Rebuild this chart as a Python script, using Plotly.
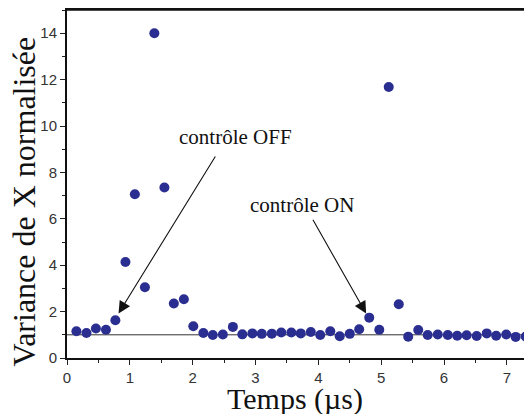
import plotly.graph_objects as go

# data
temps = [0.15, 0.31, 0.46, 0.62, 0.77, 0.93, 1.08, 1.24, 1.39, 1.55,
         1.70, 1.86, 2.01, 2.17, 2.32, 2.48, 2.64, 2.79, 2.95, 3.10,
         3.26, 3.41, 3.57, 3.72, 3.88, 4.03, 4.19, 4.34, 4.50, 4.65,
         4.81, 4.97, 5.12, 5.28, 5.43, 5.59, 5.74, 5.90, 6.06, 6.21,
         6.36, 6.52, 6.68, 6.83, 6.99, 7.14, 7.30, 7.45]
variance = [1.15, 1.08, 1.27, 1.22, 1.63, 4.14, 7.06, 3.05, 14.0, 7.35,
            2.35, 2.53, 1.37, 1.08, 0.99, 1.01, 1.34, 1.02, 1.06, 1.04,
            1.05, 1.10, 1.10, 1.06, 1.12, 0.99, 1.15, 0.94, 1.04, 1.24,
            1.74, 1.22, 11.68, 2.32, 0.92, 1.21, 0.99, 1.01, 0.99, 0.96,
            0.98, 0.95, 1.06, 0.96, 1.01, 0.91, 0.93, 1.05]
niveau_ref = 1.0

x_range = [0, 7.40]
y_range = [0, 15]

SERIF = "Liberation Serif, Times New Roman, serif"
SANS = "Liberation Sans, Arial, sans-serif"

fig = go.Figure()

# reference level
fig.add_trace(go.Scatter(
    x=x_range, y=[niveau_ref, niveau_ref],
    mode="lines", line=dict(color="#333333", width=1),
    hoverinfo="skip", showlegend=False
))

fig.add_trace(go.Scatter(
    x=temps, y=variance,
    mode="markers",
    marker=dict(color="#2b2e91", size=10),
    showlegend=False
))

# arrows
fig.add_annotation(x=0.82, y=1.92, ax=2.375, ay=8.75,
                   xref="x", yref="y", axref="x", ayref="y",
                   showarrow=True, arrowhead=2, arrowsize=2.2, arrowwidth=1.1,
                   arrowcolor="#111111", text="")
fig.add_annotation(x=4.76, y=1.92, ax=3.90, ay=6.02,
                   xref="x", yref="y", axref="x", ayref="y",
                   showarrow=True, arrowhead=2, arrowsize=2.2, arrowwidth=1.1,
                   arrowcolor="#111111", text="")

# labels
fig.add_annotation(x=2.68, y=9.52, xref="x", yref="y", showarrow=False,
                   text="contrôle OFF", font=dict(family=SERIF, size=21, color="#111111"))
fig.add_annotation(x=3.74, y=6.58, xref="x", yref="y", showarrow=False,
                   text="contrôle ON", font=dict(family=SERIF, size=21, color="#111111"))

# axis titles placed by hand
fig.add_annotation(x=0.49, y=0, xref="paper", yref="paper", yshift=-41,
                   xanchor="center", yanchor="middle", showarrow=False,
                   text="Temps (µs)", font=dict(family=SERIF, size=30, color="#111111"))
fig.add_annotation(x=0, y=0.45, xref="paper", yref="paper", xshift=-43,
                   xanchor="center", yanchor="middle", showarrow=False, textangle=-90,
                   text="Variance de X normalisée", font=dict(family=SERIF, size=32, color="#111111"))

# top frame line
fig.add_shape(type="line", xref="paper", yref="paper", x0=0, x1=1, y0=1, y1=1,
              line=dict(color="#111111", width=1.5))

fig.update_xaxes(
    range=x_range, dtick=1, tick0=0,
    ticks="outside", ticklen=5, tickwidth=1, tickcolor="#222222",
    minor=dict(ticks="outside", ticklen=3, dtick=0.5, tickcolor="#222222"),
    showline=True, linewidth=2, linecolor="#111111", mirror="ticks",
    showgrid=False, zeroline=False, automargin=False,
    tickfont=dict(family=SANS, size=15, color="#333333"),
)
fig.update_yaxes(
    range=y_range, dtick=2, tick0=0,
    ticks="outside", ticklen=5, tickwidth=1, tickcolor="#222222",
    minor=dict(ticks="outside", ticklen=3, dtick=1, tickcolor="#222222"),
    showline=True, linewidth=2, linecolor="#111111",
    showgrid=False, zeroline=False, automargin=False,
    tickfont=dict(family=SANS, size=15, color="#333333"),
)

# the page adds an 8px body margin, so the figure is sized to fill what remains
fig.update_layout(
    width=524, height=406,
    margin=dict(l=59, r=0, t=2, b=56),
    paper_bgcolor="white", plot_bgcolor="white"
)

fig.write_html("out.html")
